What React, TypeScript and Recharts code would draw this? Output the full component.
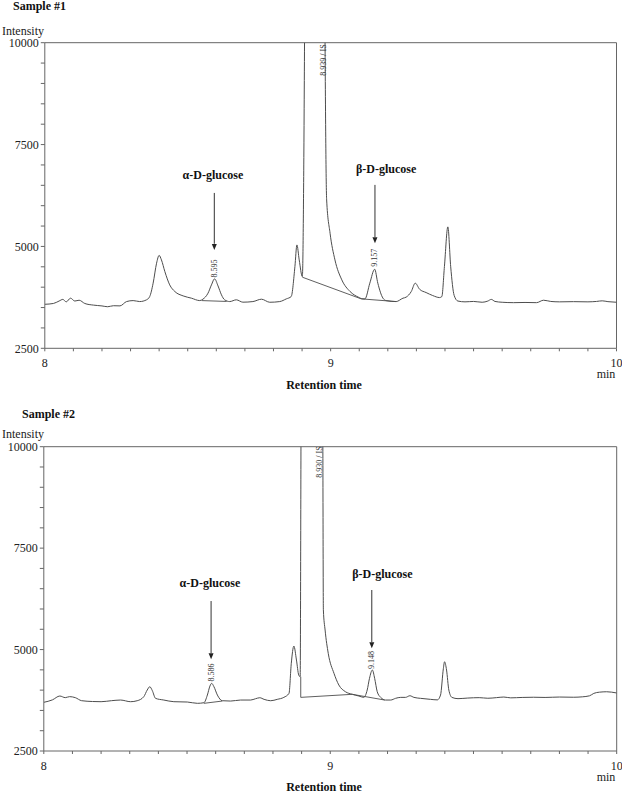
import { LineChart, Line, XAxis, YAxis, ReferenceLine, ReferenceDot } from 'recharts'

// retention time (min) and detector intensity
const sample1Time = [
  8.0, 8.03, 8.05, 8.063, 8.075, 8.09, 8.105, 8.12, 8.14, 8.17, 8.2, 8.22, 8.24, 8.263, 8.286, 8.309, 8.332,
  8.356, 8.367, 8.379, 8.391, 8.4, 8.408, 8.42, 8.437, 8.455, 8.484, 8.513, 8.542, 8.553, 8.571, 8.583, 8.594,
  8.606, 8.618, 8.629, 8.647, 8.67, 8.693, 8.728, 8.758, 8.787, 8.822, 8.845, 8.862, 8.875, 8.882, 8.89, 8.901,
  8.906, 8.909, 8.92, 8.945, 8.97, 8.98, 8.986, 8.998, 9.015, 9.039, 9.068, 9.097, 9.113, 9.12, 9.137, 9.154,
  9.165, 9.183, 9.194, 9.229, 9.253, 9.264, 9.282, 9.296, 9.311, 9.334, 9.357, 9.381, 9.389, 9.398, 9.41, 9.42,
  9.432, 9.445, 9.47, 9.5, 9.53, 9.55, 9.562, 9.575, 9.6, 9.64, 9.68, 9.72, 9.745, 9.77, 9.8, 9.85, 9.9, 9.93,
  9.95, 9.97, 10.0,
]
const sample1Intensity = [
  3580, 3600, 3660, 3700, 3640, 3730, 3660, 3680, 3600, 3560, 3540, 3520, 3545, 3541, 3647, 3671, 3647,
  3690, 3770, 4098, 4588, 4780, 4670, 4383, 4056, 3893, 3786, 3730, 3671, 3705, 3853, 4056, 4204,
  4031, 3812, 3690, 3647, 3690, 3632, 3647, 3705, 3630, 3647, 3713, 3770, 4505, 5037, 4670, 4260,
  7000, 10500, 30000, 45000, 30000, 10500, 6141, 5324, 4670, 4180, 3893, 3755, 3713, 3713, 4098, 4440,
  4098, 3730, 3671, 3647, 3730, 3755, 3893, 4098, 3950, 3868, 3795, 3745, 3770, 4505, 5480, 4500,
  3800, 3660, 3640, 3650, 3630, 3660, 3700, 3650, 3630, 3620, 3625, 3620, 3680, 3650, 3640, 3645, 3640, 3650,
  3665, 3645, 3630,
]

const sample2Time = [
  8.0, 8.03, 8.056, 8.075, 8.09, 8.11, 8.132, 8.17, 8.2, 8.236, 8.268, 8.303, 8.326, 8.349, 8.361, 8.37,
  8.379, 8.39, 8.419, 8.454, 8.501, 8.536, 8.559, 8.571, 8.58, 8.586, 8.594, 8.606, 8.623, 8.652, 8.687,
  8.722, 8.739, 8.754, 8.769, 8.792, 8.815, 8.838, 8.856, 8.864, 8.873, 8.882, 8.89, 8.895, 8.898, 8.91,
  8.94, 8.965, 8.974, 8.976, 8.982, 8.993, 9.013, 9.03, 9.053, 9.077, 9.1, 9.117, 9.129, 9.137, 9.147,
  9.155, 9.164, 9.176, 9.193, 9.211, 9.228, 9.246, 9.263, 9.278, 9.292, 9.315, 9.35, 9.374, 9.385, 9.395,
  9.399, 9.406, 9.414, 9.425, 9.446, 9.48, 9.52, 9.55, 9.58, 9.606, 9.63, 9.67, 9.71, 9.75, 9.8, 9.85,
  9.88, 9.905, 9.92, 9.94, 9.965, 10.0,
]
const sample2Intensity = [
  3700, 3760, 3855, 3815, 3840, 3815, 3740, 3720, 3715, 3740, 3756, 3715, 3739, 3838, 4003, 4084,
  3985, 3798, 3756, 3715, 3707, 3675, 3690, 3879, 4101, 4167, 4084, 3879, 3739, 3731, 3756,
  3756, 3788, 3813, 3773, 3739, 3773, 3822, 3921, 4661, 5087, 4742, 4372, 4330, 10500, 30000,
  45000, 30000, 10500, 5975, 5482, 4907, 4415, 4126, 3961, 3897, 3855, 3822, 4003, 4291, 4496,
  4291, 3961, 3822, 3756, 3756, 3798, 3822, 3822, 3862, 3822, 3798, 3773, 3760, 3879, 4538,
  4700, 4496, 4003, 3820, 3790, 3805, 3815, 3800, 3815, 3830, 3810, 3820, 3825, 3820, 3830, 3825,
  3835, 3860, 3920, 3950, 3960, 3930,
]

// integration baselines drawn by the software (start/end points)
const s1AlphaBaseT = [8.549, 8.636]
const s1AlphaBaseV = [3671, 3650]
const s1IsBaseT = [8.901, 9.107, 9.229]
const s1IsBaseV = [4245, 3713, 3647]

const s2AlphaBaseT = [8.559, 8.623]
const s2AlphaBaseV = [3675, 3731]
const s2IsBaseT = [8.897, 8.897, 9.077, 9.19]
const s2IsBaseV = [4330, 3822, 3897, 3756]

const xTicks = [8, 8.1, 8.2, 8.3, 8.4, 8.5, 8.6, 8.7, 8.8, 8.9, 9, 9.1, 9.2, 9.3, 9.4, 9.5, 9.6, 9.7, 9.8, 9.9, 10]
const yTicks = [2500, 3000, 3500, 4000, 4500, 5000, 5500, 6000, 6500, 7000, 7500, 8000, 8500, 9000, 9500, 10000]

// peak annotations: [time, intensity]
const s1Alpha = { name: 'α-D-glucose', rt: '8.595', label: [8.588, 6755], arrow: [8.593, 6313, 4915], rtPos: [8.593, 4461] }
const s1Beta = { name: 'β-D-glucose', rt: '9.157', label: [9.194, 6902], arrow: [9.155, 6510, 5080], rtPos: [9.155, 4720] }
const s1Is = { rt: '8.939 / IS', pos: [8.975, 9576] }

const s2Alpha = { name: 'α-D-glucose', rt: '8.586', label: [8.58, 6640], arrow: [8.584, 6196, 4760], rtPos: [8.584, 4434] }
const s2Beta = { name: 'β-D-glucose', rt: '9.148', label: [9.182, 6862], arrow: [9.145, 6468, 5030], rtPos: [9.145, 4742] }
const s2Is = { rt: '8.930 / IS', pos: [8.964, 9623] }

const toPts = (t: number[], v: number[]) => t.map((x, i) => ({ t: x, v: v[i] }))

const FONT = '"Liberation Serif", "Times New Roman", serif'
const CURVE = '#4d4d4d'
const AXIS = '#666'

function BoldText(props: any) {
  const { cx, cy, text } = props
  return (
    <text x={cx} y={cy} textAnchor="middle" dominantBaseline="central" fontFamily={FONT} fontWeight="bold" fontSize={12} fill="#111">
      {text}
    </text>
  )
}

function RotText(props: any) {
  const { cx, cy, text } = props
  return (
    <text x={cx} y={cy} transform={`rotate(-90 ${cx} ${cy})`} textAnchor="middle" dominantBaseline="central" fontFamily={FONT} fontSize={8} fill="#333">
      {text}
    </text>
  )
}

function ArrowHead(props: any) {
  const { cx, cy } = props
  return <path d={`M${cx - 2.5},${cy - 6} L${cx + 2.5},${cy - 6} L${cx},${cy} Z`} fill="#222" />
}

function Chromatogram({ time, intensity, alphaBase, isBase, alpha, beta, is, margin, height }: any) {
  return (
    <LineChart width={622} height={height} margin={margin}>
      <XAxis
        type="number"
        dataKey="t"
        domain={[8, 10]}
        ticks={xTicks}
        interval={0}
        allowDataOverflow
        tickFormatter={(v: number) => (Number.isInteger(v) ? String(v) : '')}
        tickSize={3}
        tickMargin={7}
        height={30}
        stroke={AXIS}
        tick={{ fontFamily: FONT, fontSize: 12, fill: '#222' }}
      />
      <YAxis
        type="number"
        domain={[2500, 10000]}
        ticks={yTicks}
        interval={0}
        allowDataOverflow
        tickFormatter={(v: number) => (v % 2500 === 0 ? String(v) : '')}
        tickSize={4}
        tickMargin={2}
        width={40}
        stroke={AXIS}
        tick={{ fontFamily: FONT, fontSize: 12, fill: '#222' }}
      />
      <ReferenceLine y={10000} stroke={AXIS} />
      <ReferenceLine x={10} stroke={AXIS} />
      <Line data={toPts(alphaBase[0], alphaBase[1])} dataKey="v" type="linear" stroke={CURVE} strokeWidth={0.9} dot={false} isAnimationActive={false} />
      <Line data={toPts(isBase[0], isBase[1])} dataKey="v" type="linear" stroke={CURVE} strokeWidth={0.9} dot={false} isAnimationActive={false} />
      <Line data={toPts(time, intensity)} dataKey="v" type="monotone" stroke={CURVE} strokeWidth={1} dot={false} isAnimationActive={false} />
      {[alpha, beta].map((p: any) => (
        <ReferenceLine
          key={p.name + 'l'}
          segment={[{ x: p.arrow[0], y: p.arrow[1] }, { x: p.arrow[0], y: p.arrow[2] + 150 }]}
          stroke="#333"
        />
      ))}
      {[alpha, beta].map((p: any) => (
        <ReferenceDot key={p.name + 'h'} x={p.arrow[0]} y={p.arrow[2]} r={0} shape={(s: any) => <ArrowHead {...s} />} />
      ))}
      {[alpha, beta].map((p: any) => (
        <ReferenceDot key={p.name + 't'} x={p.label[0]} y={p.label[1]} r={0} shape={(s: any) => <BoldText {...s} text={p.name} />} />
      ))}
      {[alpha, beta].map((p: any) => (
        <ReferenceDot key={p.name + 'r'} x={p.rtPos[0]} y={p.rtPos[1]} r={0} shape={(s: any) => <RotText {...s} text={p.rt} />} />
      ))}
      <ReferenceDot x={is.pos[0]} y={is.pos[1]} r={0} shape={(s: any) => <RotText {...s} text={is.rt} />} />
    </LineChart>
  )
}

function Titles({ title, top, sampleX, sampleY, intensityY, minY, rtY }: any) {
  return (
    <svg width={622} height={400} style={{ position: 'absolute', left: 0, top, pointerEvents: 'none' }}>
      <text x={sampleX} y={sampleY} fontFamily={FONT} fontWeight="bold" fontSize={12} fill="#111">{title}</text>
      <text x={2} y={intensityY} fontFamily={FONT} fontSize={12} fill="#222">Intensity</text>
      <text x={606} y={minY} textAnchor="middle" fontFamily={FONT} fontSize={12} fill="#222">min</text>
      <text x={324} y={rtY} textAnchor="middle" fontFamily={FONT} fontWeight="bold" fontSize={12} fill="#111">Retention time</text>
    </svg>
  )
}

export default function App() {
  return (
    <div style={{ position: 'absolute', left: 0, top: 0, width: 622, height: 793, background: '#fff', overflow: 'hidden' }}>
      <div style={{ position: 'absolute', left: 0, top: 0 }}>
        <Chromatogram
          time={sample1Time}
          intensity={sample1Intensity}
          alphaBase={[s1AlphaBaseT, s1AlphaBaseV]}
          isBase={[s1IsBaseT, s1IsBaseV]}
          alpha={s1Alpha}
          beta={s1Beta}
          is={s1Is}
          height={393}
          margin={{ top: 42.7, right: 5.5, left: 4.8, bottom: 14.7 }}
        />
      </div>
      <div style={{ position: 'absolute', left: 0, top: 404 }}>
        <Chromatogram
          time={sample2Time}
          intensity={sample2Intensity}
          alphaBase={[s2AlphaBaseT, s2AlphaBaseV]}
          isBase={[s2IsBaseT, s2IsBaseV]}
          alpha={s2Alpha}
          beta={s2Beta}
          is={s2Is}
          height={389}
          margin={{ top: 42.7, right: 5.3, left: 3.8, bottom: 12 }}
        />
      </div>
      <Titles title="Sample #1" top={0} sampleX={13} sampleY={10} intensityY={34.5} minY={377.5} rtY={389} />
      <Titles title="Sample #2" top={393} sampleX={22} sampleY={25} intensityY={45} minY={388} rtY={397.5} />
    </div>
  )
}
